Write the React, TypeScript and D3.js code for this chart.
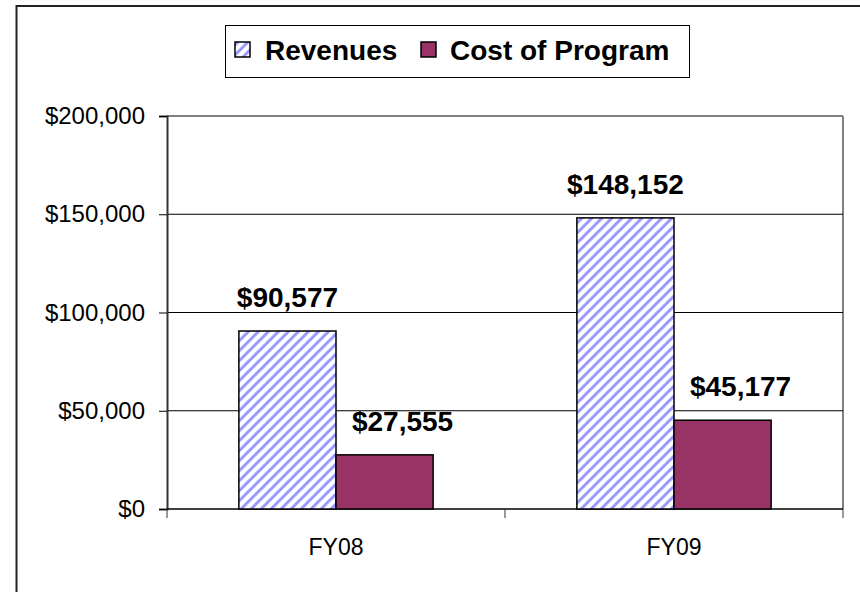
import React, { useEffect, useRef } from 'react';
import * as d3 from 'd3';

const categories = ['FY08', 'FY09'];
const seriesNames = ['Revenues', 'Cost of Program'];
const revenues = [90577, 148152];
const costs = [27555, 45177];
const yTicks = [0, 50000, 100000, 150000, 200000];

const W = 860;
const H = 592;
const PLOT = { left: 167, right: 843, top: 116, bottom: 509 };
const FONT = 'Arial, "Liberation Sans", sans-serif';
const COST_COLOR = '#993366';
const STRIPE_COLOR = '#9999ff';

export default function App() {
    const svgRef = useRef<SVGSVGElement | null>(null);

    useEffect(() => {
        const svg = d3.select(svgRef.current);
        svg.selectAll('*').remove();

        const defs = svg.append('defs');
        const pat = defs.append('pattern')
            .attr('id', 'stripes')
            .attr('patternUnits', 'userSpaceOnUse')
            .attr('width', 10).attr('height', 10);
        pat.append('rect').attr('width', 10).attr('height', 10).attr('fill', '#fff');
        pat.append('path')
            .attr('d', 'M-2,2 L2,-2 M0,10 L10,0 M8,12 L12,8')
            .attr('stroke', STRIPE_COLOR).attr('stroke-width', 3);

        // outer chart border (only left/top visible)
        svg.append('rect')
            .attr('x', 16.5).attr('y', 6)
            .attr('width', W + 20).attr('height', H + 20)
            .attr('fill', '#fff').attr('stroke', '#222').attr('stroke-width', 2);

        const x = d3.scaleBand<string>().domain(categories).range([PLOT.left, PLOT.right]);
        const xs = d3.scaleBand<string>().domain(seriesNames).range([0, x.bandwidth()]).paddingOuter(0.74);
        const y = d3.scaleLinear().domain([0, 200000]).range([PLOT.bottom, PLOT.top]);

        const g = svg.append('g');

        // plot frame top & right (gray)
        g.append('line')
            .attr('x1', PLOT.left).attr('x2', PLOT.right)
            .attr('y1', y(200000)).attr('y2', y(200000))
            .attr('stroke', '#808080').attr('stroke-width', 2);
        g.append('line')
            .attr('x1', PLOT.right).attr('x2', PLOT.right)
            .attr('y1', PLOT.top).attr('y2', PLOT.bottom)
            .attr('stroke', '#808080').attr('stroke-width', 2);

        // gridlines
        g.selectAll('line.grid')
            .data(yTicks.filter(t => t > 0 && t < 200000))
            .join('line')
            .attr('class', 'grid')
            .attr('x1', PLOT.left).attr('x2', PLOT.right)
            .attr('y1', d => y(d)).attr('y2', d => y(d))
            .attr('stroke', '#000').attr('stroke-width', 1);

        // y axis
        const yAxis = g.append('g')
            .attr('transform', `translate(${PLOT.left},0)`)
            .call(d3.axisLeft(y).tickValues(yTicks).tickSize(8).tickPadding(14)
                .tickFormat(d => '$' + d3.format(',')(d as number)));
        yAxis.select('.domain').attr('stroke', '#333').attr('stroke-width', 2);
        yAxis.selectAll('line').attr('stroke', '#000');
        yAxis.selectAll('text')
            .attr('font-family', FONT).attr('font-size', 24).attr('fill', '#000');

        // x axis
        const xAxis = g.append('g').attr('transform', `translate(0,${PLOT.bottom})`);
        xAxis.append('line')
            .attr('x1', PLOT.left).attr('x2', PLOT.right)
            .attr('stroke', '#000').attr('stroke-width', 1.5);
        const bounds = [PLOT.left, ...categories.map(c => (x(c) as number) + x.bandwidth())];
        xAxis.selectAll('line.tick')
            .data(bounds)
            .join('line')
            .attr('class', 'tick')
            .attr('x1', d => d).attr('x2', d => d)
            .attr('y1', 0).attr('y2', 9)
            .attr('stroke', '#333').attr('stroke-width', 1);
        xAxis.selectAll('text')
            .data(categories)
            .join('text')
            .attr('x', d => (x(d) as number) + x.bandwidth() / 2)
            .attr('y', 46)
            .attr('text-anchor', 'middle')
            .attr('font-family', FONT).attr('font-size', 23)
            .text(d => d);

        const rows = categories.flatMap((c, i) => [
            { cat: c, series: seriesNames[0], value: revenues[i] },
            { cat: c, series: seriesNames[1], value: costs[i] },
        ]);

        g.selectAll('rect.bar')
            .data(rows)
            .join('rect')
            .attr('class', 'bar')
            .attr('x', d => (x(d.cat) as number) + (xs(d.series) as number))
            .attr('y', d => y(d.value))
            .attr('width', xs.bandwidth())
            .attr('height', d => PLOT.bottom - y(d.value))
            .attr('fill', d => d.series === seriesNames[0] ? 'url(#stripes)' : COST_COLOR)
            .attr('stroke', '#000').attr('stroke-width', 1.5);

        // Excel nudges the cost labels a little to the right
        g.selectAll('text.lbl')
            .data(rows)
            .join('text')
            .attr('class', 'lbl')
            .attr('x', d => (x(d.cat) as number) + (xs(d.series) as number) + xs.bandwidth() / 2
                + (d.series === seriesNames[1] ? 18 : 0))
            .attr('y', d => y(d.value) - 24)
            .attr('text-anchor', 'middle')
            .attr('font-family', FONT).attr('font-size', 28).attr('font-weight', 'bold')
            .text(d => '$' + d3.format(',')(d.value));

        // legend
        const lg = svg.append('g');
        lg.append('rect')
            .attr('x', 225.5).attr('y', 25.5).attr('width', 464).attr('height', 52)
            .attr('fill', '#fff').attr('stroke', '#000').attr('stroke-width', 1);
        const items = [
            { name: seriesNames[0], sx: 235, tx: 265, fill: 'url(#stripes)' },
            { name: seriesNames[1], sx: 421, tx: 450, fill: COST_COLOR },
        ];
        items.forEach(it => {
            lg.append('rect')
                .attr('x', it.sx).attr('y', 42).attr('width', 15).attr('height', 15)
                .attr('fill', it.fill).attr('stroke', '#000').attr('stroke-width', 1.5);
            lg.append('text')
                .attr('x', it.tx).attr('y', 60)
                .attr('font-family', FONT).attr('font-size', 28).attr('font-weight', 'bold')
                .text(it.name);
        });
    }, []);

    return (
        <div style={{ position: 'fixed', left: 0, top: 0, width: W, height: H, background: '#fff' }}>
            <svg ref={svgRef} width={W} height={H} />
        </div>
    );
}
